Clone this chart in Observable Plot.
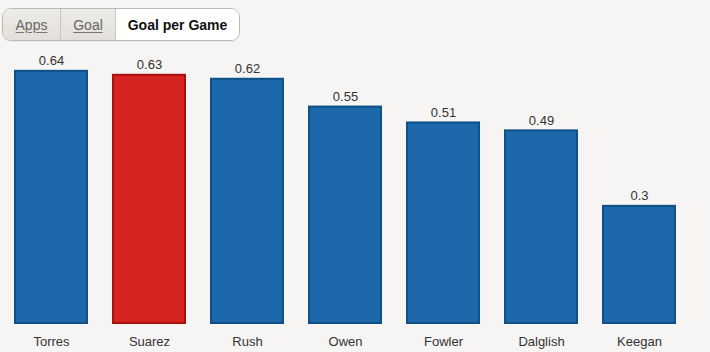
<!DOCTYPE html>
<html>
<head>
<meta charset="utf-8">
<script src="https://cdn.jsdelivr.net/npm/d3@7"></script>
<script src="https://cdn.jsdelivr.net/npm/@observablehq/plot@0.6"></script>
<style>
  html, body { margin: 0; padding: 0; background: #f6f5f3; width: 710px; height: 352px; overflow: hidden; }
  body { font-family: "Liberation Sans", Arial, sans-serif; }
  #tabs { position: relative; height: 46px; }
  .tabbar { position: absolute; left: 2px; top: 8px; width: 236px; height: 31px; border: 1px solid #bdbab5; border-radius: 9px; overflow: hidden; display: flex; background: #fff; box-shadow: 0 1px 1px rgba(0,0,0,0.05); }
  .tab { display: flex; align-items: center; justify-content: center; font-size: 14px; height: 100%; box-sizing: border-box; }
  .tab.off { background: linear-gradient(#eeece8, #e2dfda); color: #666; text-decoration: underline; text-decoration-color: #777; text-underline-offset: 2px; border-right: 1px solid #c9c5bf; }
  .tab.on { background: #fff; color: #111; font-weight: bold; }
  #chart svg { display: block; }
</style>
</head>
<body>
<div id="tabs">
  <div class="tabbar">
    <div class="tab off" style="width:58px">Apps</div>
    <div class="tab off" style="width:55px">Goal</div>
    <div class="tab on" style="width:123px">Goal per Game</div>
  </div>
</div>
<div id="chart"></div>
<script>
const players = ["Torres", "Suarez", "Rush", "Owen", "Fowler", "Dalglish", "Keegan"];
const goalsPerGame = [0.64, 0.63, 0.62, 0.55, 0.51, 0.49, 0.3];
const labels = ["0.64", "0.63", "0.62", "0.55", "0.51", "0.49", "0.3"];
const highlight = "Suarez";

const data = players.map((p, i) => ({player: p, value: goalsPerGame[i], label: labels[i]}));

const chart = Plot.plot({
  width: 710,
  height: 306,
  marginLeft: 4,
  marginRight: 24,
  marginTop: 0,
  marginBottom: 28,
  style: {background: "transparent", fontFamily: "Liberation Sans, Arial, sans-serif"},
  x: {domain: players, paddingInner: 0.245, paddingOuter: 0.1, label: null},
  y: {domain: [0, 0.7], axis: null},
  marks: [
    Plot.barY(data, {
      x: "player", y: "value",
      fill: d => d.player === highlight ? "#d52421" : "#1c68ab",
      stroke: d => d.player === highlight ? "#a9100f" : "#0f5088",
      strokeWidth: 2,
      inset: 1
    }),
    Plot.text(data, {
      x: "player", y: "value", text: "label",
      lineAnchor: "bottom", dy: -5,
      fontSize: 13, fill: "#333"
    }),
    Plot.axisX({tickSize: 0, tickPadding: 12, fontSize: 13, color: "#333", label: null})
  ]
});
document.getElementById("chart").appendChild(chart);
</script>
</body>
</html>
